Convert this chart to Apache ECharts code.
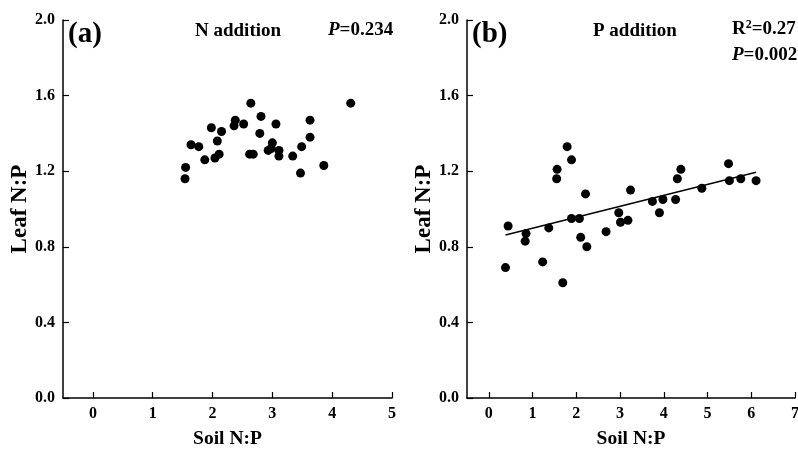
<!DOCTYPE html>
<html>
<head>
<meta charset="utf-8">
<script src="https://cdn.jsdelivr.net/npm/echarts@6/dist/echarts.min.js"></script>
<style>
html,body{margin:0;padding:0;background:#fff;}
#chart{width:798px;height:452px;}
</style>
</head>
<body>
<div id="chart"></div>
<script>
// ---- Data ----
const xTicksA = [0, 1, 2, 3, 4, 5];
const xTicksB = [0, 1, 2, 3, 4, 5, 6, 7];
const yTicks = [0, 0.4, 0.8, 1.2, 1.6, 2.0];

// (a) N addition: soil N:P vs leaf N:P
const soilNP_N = [1.54, 1.55, 1.64, 1.77, 1.87, 1.98, 2.04, 2.11, 2.08, 2.15, 2.36, 2.38, 2.52, 2.62, 2.68, 2.64, 2.79, 2.81, 2.93, 2.98, 3.00, 3.06, 3.11, 3.11, 3.34, 3.47, 3.49, 3.63, 3.63, 3.86, 4.31];
const leafNP_N = [1.16, 1.22, 1.34, 1.33, 1.26, 1.43, 1.27, 1.29, 1.36, 1.41, 1.44, 1.47, 1.45, 1.29, 1.29, 1.56, 1.40, 1.49, 1.31, 1.32, 1.35, 1.45, 1.31, 1.28, 1.28, 1.19, 1.33, 1.47, 1.38, 1.23, 1.56];

// (b) P addition: soil N:P vs leaf N:P
const soilNP_P = [0.38, 0.44, 0.85, 0.83, 1.23, 1.37, 1.55, 1.56, 1.69, 1.79, 1.89, 1.89, 2.07, 2.10, 2.21, 2.24, 2.68, 2.97, 3.01, 3.18, 3.24, 3.74, 3.90, 3.98, 4.27, 4.31, 4.39, 4.87, 5.48, 5.50, 5.76, 6.11];
const leafNP_P = [0.69, 0.91, 0.87, 0.83, 0.72, 0.90, 1.16, 1.21, 0.61, 1.33, 1.26, 0.95, 0.95, 0.85, 1.08, 0.80, 0.88, 0.98, 0.93, 0.94, 1.10, 1.04, 0.98, 1.05, 1.05, 1.16, 1.21, 1.11, 1.24, 1.15, 1.16, 1.15];

// regression line endpoints for (b)
const fitX_P = [0.38, 6.11];
const fitY_P = [0.862, 1.194];

const titleA = '(a)', subA = 'N addition', statA = '0.234';
const titleB = '(b)', subB = 'P addition', r2B = '0.27', statB = '0.002';
const xName = 'Soil N:P', yName = 'Leaf N:P';

// ---- Chart ----
const FONT = '"Liberation Serif", "Times New Roman", serif';
const chart = echarts.init(document.getElementById('chart'), null, {renderer: 'canvas'});

function pairs(xs, ys) { return xs.map((x, i) => [x, ys[i]]); }

function xAxisDef(idx, max, ticks) {
  return {
    type: 'value', gridIndex: idx, min: -0.5, max: max,
    name: xName, nameLocation: 'middle', nameGap: 31,
    nameTextStyle: {fontFamily: FONT, fontWeight: 'bold', fontSize: 19.5, color: '#000'},
    axisLine: {show: true, onZero: false, lineStyle: {color: '#000', width: 1.5}},
    axisTick: {show: true, inside: true, length: 6, customValues: ticks, lineStyle: {color: '#000', width: 1.2}},
    axisLabel: {customValues: ticks, margin: 8, fontFamily: FONT, fontWeight: 'bold', fontSize: 16, color: '#000'},
    splitLine: {show: false}
  };
}
function yAxisDef(idx) {
  return {
    type: 'value', gridIndex: idx, min: 0, max: 2.0, interval: 0.4,
    name: yName, nameLocation: 'middle', nameGap: 31, nameRotate: 90,
    nameTextStyle: {fontFamily: FONT, fontWeight: 'bold', fontSize: 23, color: '#000'},
    axisLine: {show: true, onZero: false, lineStyle: {color: '#000', width: 1.5}},
    axisTick: {show: true, inside: true, length: 6, lineStyle: {color: '#000', width: 1.2}},
    axisLabel: {margin: 8, fontFamily: FONT, fontWeight: 'bold', fontSize: 16, color: '#000',
      formatter: v => v.toFixed(1)},
    splitLine: {show: false}
  };
}

const tstyle = (size, italic) => ({fontFamily: FONT, fontWeight: 'bold', fontSize: size, color: '#000', fontStyle: italic ? 'italic' : 'normal'});

const option = {
  animation: false,
  backgroundColor: '#fff',
  grid: [
    {left: 63, right: 406, top: 20, bottom: 54, containLabel: false, outerBoundsMode: 'none'},
    {left: 467, right: 3, top: 20, bottom: 54, containLabel: false, outerBoundsMode: 'none'}
  ],
  xAxis: [xAxisDef(0, 5, xTicksA), xAxisDef(1, 7, xTicksB)],
  yAxis: [yAxisDef(0), yAxisDef(1)],
  graphic: [
    {type: 'text', left: 68, top: 20, style: {text: titleA, font: 'bold 29px ' + FONT, fill: '#000'}},
    {type: 'text', left: 195, top: 22, style: {text: subA, font: 'bold 19px ' + FONT, fill: '#000'}},
    {type: 'text', left: 328, top: 21, style: {
      text: '{i|P}{n|=' + statA + '}',
      rich: {i: tstyle(19, true), n: tstyle(19, false)}}},
    {type: 'text', left: 472, top: 20, style: {text: titleB, font: 'bold 29px ' + FONT, fill: '#000'}},
    {type: 'text', left: 593, top: 22, style: {text: subB, font: 'bold 19px ' + FONT, fill: '#000'}},
    {type: 'text', left: 732, top: 19, style: {
      text: '{n|R}{s|2}{n|=' + r2B + '}',
      rich: {n: tstyle(19, false), s: Object.assign(tstyle(12, false), {verticalAlign: 'top', padding: [0, 0, 8, 0]})}}},
    {type: 'text', left: 732, top: 46, style: {
      text: '{i|P}{n|=' + statB + '}',
      rich: {i: tstyle(19, true), n: tstyle(19, false)}}}
  ],
  series: [
    {type: 'scatter', xAxisIndex: 0, yAxisIndex: 0, data: pairs(soilNP_N, leafNP_N),
      symbol: 'circle', symbolSize: 9, itemStyle: {color: '#000', opacity: 1}},
    {type: 'scatter', xAxisIndex: 1, yAxisIndex: 1, data: pairs(soilNP_P, leafNP_P),
      symbol: 'circle', symbolSize: 9, itemStyle: {color: '#000', opacity: 1}},
    {type: 'line', xAxisIndex: 1, yAxisIndex: 1, data: pairs(fitX_P, fitY_P),
      symbol: 'none', lineStyle: {color: '#000', width: 1.5}}
  ]
};
chart.setOption(option);
</script>
</body>
</html>
